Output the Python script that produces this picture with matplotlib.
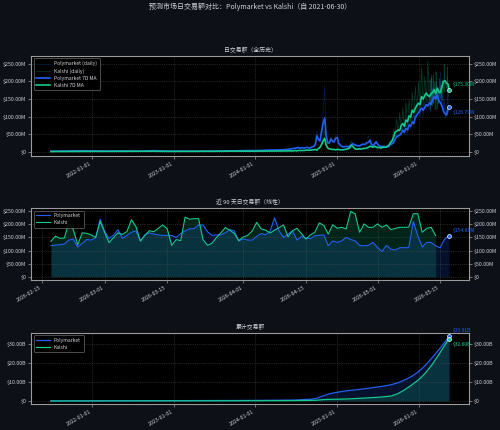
import numpy as np
import pandas as pd
import matplotlib
matplotlib.use('Agg')
import matplotlib.pyplot as plt
import matplotlib.dates as mdates
from matplotlib.ticker import FuncFormatter

plt.rcParams['font.family'] = ['Noto Sans CJK SC', 'DejaVu Sans']

BG = '#0d1117'
AX_BG = '#000000'
TXT = '#d0d4da'
POLY = '#2160f5'
KALSHI = '#16c98d'

# ---- full history, monthly (2021-06 .. 2024-05), values in $M ----
month_dates = pd.date_range('2021-06-30', periods=36, freq=pd.offsets.MonthEnd())
poly_month = [0.8, 1.2, 1.5, 1.8, 2.2, 2.0, 1.6, 1.9, 1.4, 1.2, 1.5, 1.3,
              1.0, 1.1, 1.4, 2.5, 1.8, 1.2, 1.0, 1.3, 0.9, 0.8, 1.1, 1.0,
              1.2, 1.5, 1.8, 2.2, 2.5, 3.0, 2.8, 3.5, 4.0, 4.5, 5.0, 6.5]
kalshi_month = [0.1, 0.2, 0.3, 0.3, 0.4, 0.4, 0.5, 0.4, 0.5, 0.6, 0.5, 0.5,
                0.6, 0.7, 0.8, 1.0, 0.6, 0.5, 0.6, 0.7, 0.5, 0.6, 0.8, 0.7,
                0.8, 1.0, 0.9, 1.2, 1.0, 1.1, 1.3, 1.2, 1.4, 1.5, 1.8, 2.0]

# ---- weekly from 2024-06-05, last point 2026-05-17 ----
week_dates = pd.date_range('2024-06-05', periods=102, freq='7D').append(
    pd.DatetimeIndex(['2026-05-17']))
poly_ma = [7, 8, 9, 9, 10, 12, 9, 11, 10, 10, 11, 12, 10, 11, 13, 15, 20,
           45, 35, 30, 55, 80, 96, 45, 25, 24, 36, 30, 27, 38, 40, 24, 18, 15, 13,
           14, 15, 13, 16,
           18, 22, 20, 18,
           17, 16, 18, 20, 21,
           20, 25, 26, 33,
           20, 18, 22, 28,
           20, 16, 15, 14, 15,
           13, 15, 14, 20,
           22, 25, 35, 42, 45, 47, 52, 61, 55, 66, 62, 76, 72, 85, 80, 98, 105, 110,
           118, 124, 118, 126, 134, 130, 138, 135, 148, 157, 150, 162, 145, 140, 130,
           115, 108, 104, 125,
           126.79]
kalshi_ma = [2, 2, 2, 3, 2, 3, 3, 3, 3, 3, 4, 4, 4, 4, 5, 5, 6,
             4, 8, 12, 20, 30, 38, 18, 10, 8, 7, 6, 6, 5, 6, 6, 5, 5, 5,
             6, 7, 8, 10,
             18, 15, 9, 7,
             7, 8, 7, 8, 9,
             9, 10, 12, 15,
             14, 12, 15, 13,
             11, 12, 10, 12, 13,
             12, 14, 18, 25,
             30, 40, 55, 58, 62, 60, 75, 80, 72, 90, 85, 102, 98, 118, 112, 124, 132, 138,
             134, 157, 150, 160, 167, 160, 157, 165, 168, 177, 165, 181, 170, 168, 186,
             200, 202, 195, 192,
             175.30]

# raw daily volume sampled weekly, up to 2026-02-11
poly_daily_w = [9, 11, 8, 12, 10, 14, 8, 13, 9, 12, 10, 14, 9, 13, 15, 12, 22,
                60, 30, 38, 70, 110, 185,
                50, 20, 30, 42, 25, 33, 45, 48, 20, 22, 12, 16,
                12, 18, 11, 20, 16, 28, 17, 22, 14, 20, 15, 25, 18, 24,
                30, 45, 25, 24, 15, 30, 24, 22, 13, 18, 12, 18, 11, 18, 12, 26,
                18, 32, 28, 52, 38, 56, 45, 72, 48, 80, 52, 90, 62, 100, 70, 115,
                92, 125, 100, 140, 105, 145, 118, 150]
kalshi_daily_w = [2, 3, 1, 3, 2, 4, 2, 3, 2, 4, 3, 5, 3, 4, 6, 5, 8,
                  6, 12, 10, 25, 40, 60,
                  15, 12, 6, 9, 5, 8, 4, 9, 5, 8, 4, 7,
                  5, 9, 7, 14, 30, 12, 10, 6, 9, 6, 10, 7, 11, 8,
                  14, 10, 20, 12, 16, 18, 11, 14, 10, 13, 9, 16, 11, 18, 14, 32,
                  25, 65, 45, 95, 50, 110, 60, 125, 65, 140, 75, 150, 85, 170, 95, 185,
                  110, 200, 115, 240, 130, 215, 140, 260]

# ---- last 90 days, daily ($M) ----
day_dates = pd.date_range('2026-02-17', periods=90, freq='D')
poly_90d = [119, 121, 122, 125, 140, 144, 113, 128, 142, 140,
            148, 220, 175, 145, 160, 180, 147, 158, 170, 175,
            138, 160, 168, 163, 160, 158, 158, 158, 150, 165,
            175, 183, 184, 198, 198, 172, 158, 160, 160, 168,
            180, 175, 136, 145, 140, 140, 154, 165, 160, 175,
            225, 175, 150, 163, 176, 140, 154, 148, 145, 157,
            158, 160, 118, 137, 131, 137, 150, 142, 137, 120,
            118, 120, 131, 112, 96, 120, 105, 102, 111, 111,
            111, 211, 157, 114, 131, 131, 118, 111, 144, 154.88]
kalshi_90d = [135, 155, 147, 148, 206, 180, 122, 168, 166, 160,
              150, 212, 170, 130, 150, 168, 162, 173, 218, 192,
              136, 158, 176, 172, 185, 198, 183, 120, 142, 138,
              228, 220, 222, 222, 142, 120, 128, 150, 168, 188,
              178, 165, 138, 152, 158, 175, 208, 183, 178, 167,
              178, 188, 198, 153, 176, 185, 165, 144, 160, 170,
              206, 196, 163, 199, 185, 189, 183, 250, 241, 170,
              202, 189, 189, 202, 189, 198, 180, 185, 189, 189,
              190, 241, 241, 170, 185, 189, 157]

# ---- cumulative ($B) ----
cum_dates = pd.to_datetime([
    '2021-06-30', '2021-09-30', '2021-12-31', '2022-03-31', '2022-06-30',
    '2022-09-30', '2022-12-31', '2023-03-31', '2023-06-30', '2023-09-30',
    '2023-12-31', '2024-03-31', '2024-06-30',
    '2024-07-31', '2024-08-31', '2024-09-30', '2024-10-31', '2024-11-30', '2024-12-31',
    '2025-01-31', '2025-02-28', '2025-03-31', '2025-04-30', '2025-05-31', '2025-06-30',
    '2025-07-31', '2025-08-31', '2025-09-30', '2025-10-31', '2025-11-30', '2025-12-31',
    '2026-01-31', '2026-02-28', '2026-03-31', '2026-04-30', '2026-05-17'])
poly_cum = [0.0, 0.03, 0.06, 0.09, 0.12, 0.15, 0.18, 0.2, 0.22, 0.25, 0.3, 0.38, 0.5,
            0.7, 0.85, 1.3, 2.7, 3.8, 4.5,
            5.1, 5.5, 5.9, 6.3, 6.8, 7.3, 7.8, 8.5, 9.5, 11.0, 12.8, 15.3,
            18.6, 22.3, 26.6, 31.0, 33.91]
kalshi_cum = [0.0, 0.01, 0.02, 0.03, 0.04, 0.05, 0.06, 0.07, 0.08, 0.1, 0.12, 0.15, 0.2,
              0.25, 0.3, 0.35, 0.7, 0.85, 0.9,
              1.0, 1.1, 1.3, 1.5, 1.7, 1.9, 2.2, 2.6, 3.8, 5.9, 8.3, 11.0,
              14.6, 18.7, 24.0, 29.5, 32.60]


def fmt_m(v, pos):
    return '$0' if abs(v) < 1e-9 else f'${v:.2f}M'


def fmt_b(v, pos):
    return '$0' if abs(v) < 1e-9 else f'${v:.2f}B'


def style_ax(ax, title, yfmt):
    ax.set_facecolor(AX_BG)
    ax.set_title(title, fontsize=4.2, color=TXT, pad=3)
    for s in ax.spines.values():
        s.set_color('#9a9a9a')
        s.set_linewidth(0.8)
    ax.tick_params(axis='both', colors='#9a9a9a', labelcolor=TXT, labelsize=3.8,
                   length=2, width=0.5, pad=1.5)
    ax.tick_params(axis='y', right=True, labelright=True)
    ax.yaxis.set_major_formatter(FuncFormatter(yfmt))
    ax.grid(True, color='#5a5a5a', linestyle=':', linewidth=0.5, alpha=0.8)
    for lbl in ax.get_xticklabels():
        lbl.set_rotation(30)
        lbl.set_ha('right')


def legend(ax):
    lg = ax.legend(loc='upper left', fontsize=3.6, facecolor='black', edgecolor='#777777',
                   labelcolor=TXT, framealpha=0.9, handlelength=2.8, borderpad=0.5,
                   labelspacing=0.4)
    lg.get_frame().set_linewidth(0.5)


fig = plt.figure(figsize=(5, 4.3), dpi=100, facecolor=BG)
fig.text(0.5, 0.984, '预测市场日交易额对比：Polymarket vs Kalshi（自 2021-06-30）',
         ha='center', va='center', fontsize=5, color=TXT)

ax1 = fig.add_axes([0.062, 0.637, 0.876, 0.233])
ax2 = fig.add_axes([0.062, 0.349, 0.876, 0.167])
ax3 = fig.add_axes([0.062, 0.060, 0.876, 0.166])

# Panel 1: full history
ma_dates = month_dates.append(week_dates)
raw_dates_p = month_dates.append(week_dates[:len(poly_daily_w)]).append(day_dates)
raw_dates_k = month_dates.append(week_dates[:len(kalshi_daily_w)]).append(day_dates[:len(kalshi_90d)])
poly_raw = poly_month + poly_daily_w + poly_90d
kalshi_raw = kalshi_month + kalshi_daily_w + kalshi_90d
poly_ma_all = poly_month + poly_ma
kalshi_ma_all = kalshi_month + kalshi_ma

ax1.plot(raw_dates_p, poly_raw, color=POLY, lw=0.5, alpha=0.3, label='Polymarket (daily)')
ax1.plot(raw_dates_k, kalshi_raw, color=KALSHI, lw=0.5, alpha=0.3, label='Kalshi (daily)')
ax1.plot(ma_dates, poly_ma_all, color=POLY, lw=1.2, label='Polymarket 7D MA')
ax1.plot(ma_dates, kalshi_ma_all, color=KALSHI, lw=1.2, label='Kalshi 7D MA')
for d, v, c, dy in [(ma_dates[-1], kalshi_ma_all[-1], KALSHI, 4),
                    (ma_dates[-1], poly_ma_all[-1], POLY, -4)]:
    ax1.plot([d], [v], 'o', ms=2.8, mfc=c, mec='white', mew=0.5, alpha=0.9)
    ax1.annotate(f'${v:.2f}M', xy=(d, v), xytext=(3, dy), textcoords='offset points',
                 fontsize=3.6, color=c, va='center', ha='left')
ax1.xaxis.set_major_locator(mdates.YearLocator())
ax1.xaxis.set_major_formatter(mdates.DateFormatter('%Y-%m-%d'))
style_ax(ax1, '日交易额（全历史）', fmt_m)
legend(ax1)

# Panel 2: last 90 days
kd = day_dates[:len(kalshi_90d)]
ax2.fill_between(day_dates, 0, poly_90d, color=POLY, alpha=0.18, lw=0)
ax2.fill_between(kd, 0, kalshi_90d, color=KALSHI, alpha=0.18, lw=0)
ax2.plot(day_dates, poly_90d, color=POLY, lw=0.8, label='Polymarket')
ax2.plot(kd, kalshi_90d, color=KALSHI, lw=0.8, label='Kalshi')
ax2.plot([day_dates[-1]], [poly_90d[-1]], 'o', ms=2.8, mfc=POLY, mec='white', mew=0.5)
ax2.annotate(f'${poly_90d[-1]:.2f}M', xy=(day_dates[-1], poly_90d[-1]), xytext=(3, 4),
             textcoords='offset points', fontsize=3.6, color=POLY, va='center')
ax2.xaxis.set_major_locator(mdates.DayLocator(bymonthday=[1, 15]))
ax2.xaxis.set_major_formatter(mdates.DateFormatter('%Y-%m-%d'))
style_ax(ax2, '近 90 天日交易额（线性）', fmt_m)
legend(ax2)

# Panel 3: cumulative
ax3.fill_between(cum_dates, 0, poly_cum, color=POLY, alpha=0.18, lw=0)
ax3.fill_between(cum_dates, 0, kalshi_cum, color=KALSHI, alpha=0.18, lw=0)
ax3.plot(cum_dates, poly_cum, color=POLY, lw=0.9, label='Polymarket')
ax3.plot(cum_dates, kalshi_cum, color=KALSHI, lw=0.9, label='Kalshi')
for v, c, dy in [(poly_cum[-1], POLY, 4), (kalshi_cum[-1], KALSHI, -4)]:
    ax3.plot([cum_dates[-1]], [v], 'o', ms=2.8, mfc=c, mec='white', mew=0.5)
    ax3.annotate(f'${v:.2f}B', xy=(cum_dates[-1], v), xytext=(3, dy),
                 textcoords='offset points', fontsize=3.6, color=c, va='center')
ax3.xaxis.set_major_locator(mdates.YearLocator())
ax3.xaxis.set_major_formatter(mdates.DateFormatter('%Y-%m-%d'))
style_ax(ax3, '累计交易额', fmt_b)
legend(ax3)

fig.savefig('out.png', dpi=100, facecolor=BG)
